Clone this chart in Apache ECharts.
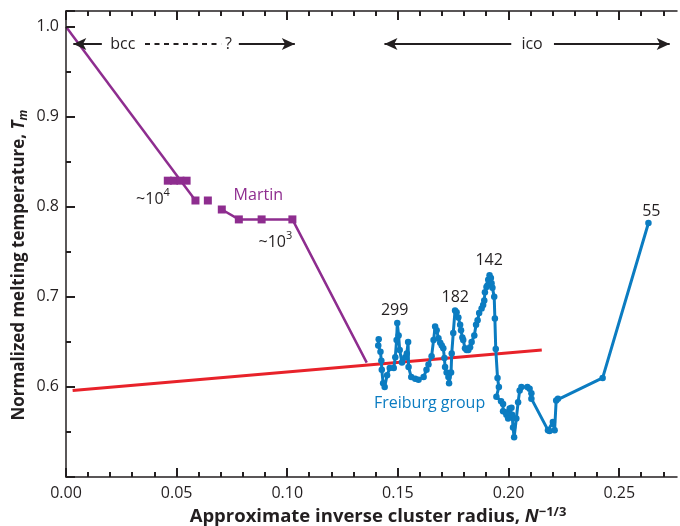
<!DOCTYPE html>
<html><head><meta charset="utf-8">
<script src="https://cdn.jsdelivr.net/npm/echarts@6/dist/echarts.min.js"></script>
<style>html,body{margin:0;padding:0;background:#fff}#c{width:680px;height:526px}</style>
</head><body><div id="c"></div>
<script>
// ---------- data ----------
const xTickLabels = [0, 0.05, 0.10, 0.15, 0.20, 0.25];
const xTickMarks = [0.00,0.01,0.02,0.03,0.04,0.05,0.06,0.07,0.08,0.09,0.10,0.11,0.12,0.13,
  0.14,0.15,0.16,0.17,0.18,0.19,0.20,0.21,0.22,0.23,0.24,0.25,0.26,0.27];
const yTickLabels = [0.6, 0.7, 0.8, 0.9, 1.0];

const martinLineAX = [0.000, 0.0585];
const martinLineAY = [1.000, 0.807];
const martinLineBX = [0.0704, 0.0781, 0.0884, 0.1023, 0.1359];
const martinLineBY = [0.797, 0.786, 0.786, 0.786, 0.627];
const martinSquareX = [0.0460, 0.0488, 0.0517, 0.0545, 0.0585, 0.0641, 0.0704, 0.0781, 0.0884, 0.1023];
const martinSquareY = [0.829, 0.829, 0.829, 0.829, 0.807, 0.807, 0.797, 0.786, 0.786, 0.786];

const freiburgX = [0.1413,0.1411,0.1421,0.1425,0.1427,0.1433,0.1440,0.1451,0.1463,0.1481,
  0.1488,0.1494,0.1497,0.1503,0.1508,0.1518,0.1533,0.1540,0.1546,0.1548,
  0.1560,0.1578,0.1593,0.1616,0.1629,0.1638,0.1652,0.1661,0.1668,0.1675,
  0.1683,0.1691,0.1698,0.1705,0.1710,0.1713,0.1720,0.1728,0.1731,0.1740,
  0.1743,0.1750,0.1758,0.1765,0.1773,0.1781,0.1785,0.1791,0.1795,0.1803,
  0.1810,0.1818,0.1826,0.1833,0.1845,0.1853,0.1860,0.1867,0.1878,0.1885,
  0.1890,0.1893,0.1900,0.1905,0.1908,0.1914,0.1920,0.1923,0.1927,0.1935,
  0.1938,0.1942,0.1950,0.1956,0.1945,0.1966,0.1975,0.1975,0.1986,0.1990,
  0.1998,0.2005,0.2013,0.2016,0.2020,0.2025,0.2035,0.2043,0.2050,0.2058,
  0.2085,0.2095,0.2103,0.2103,0.2178,0.2185,0.2200,0.2208,0.2215,0.2223,
  0.2425,0.2632];
const freiburgY = [0.653,0.646,0.639,0.629,0.619,0.604,0.600,0.613,0.621,0.621,
  0.633,0.652,0.671,0.657,0.641,0.627,0.633,0.637,0.650,0.622,
  0.611,0.609,0.608,0.611,0.619,0.625,0.634,0.652,0.667,0.663,
  0.654,0.649,0.646,0.643,0.632,0.622,0.616,0.611,0.604,0.616,
  0.637,0.660,0.685,0.683,0.677,0.669,0.663,0.655,0.652,0.643,
  0.641,0.641,0.644,0.650,0.657,0.669,0.674,0.682,0.687,0.691,
  0.696,0.705,0.711,0.713,0.719,0.724,0.721,0.715,0.710,0.700,
  0.676,0.642,0.610,0.600,0.589,0.584,0.581,0.573,0.572,0.569,
  0.565,0.576,0.577,0.569,0.555,0.544,0.565,0.583,0.596,0.600,
  0.600,0.598,0.593,0.587,0.552,0.551,0.561,0.552,0.585,0.587,
  0.610,0.782];

const redX = [0.003, 0.215];
const redY = [0.596, 0.641];

// annotations (data coords of text centre)
const noteText = ['~10{sup|4}', 'Martin', '~10{sup|3}', '299', '182', '142', '55', 'Freiburg group', 'bcc', '?', 'ico'];
const noteX = [0.0393, 0.0869, 0.0946, 0.1485, 0.1759, 0.1912, 0.2645, 0.1643, 0.0257, 0.0734, 0.2106];
const noteY = [0.8086, 0.8130, 0.7608, 0.6852, 0.6997, 0.7408, 0.7952, 0.5814, 0.9808, 0.9808, 0.9808];
const noteKind = ['k', 'p', 'k', 'k', 'k', 'k', 'k', 'b', 'k', 'k', 'k'];

// phase arrows (data coords)
const arrowY = 0.9808;
const arrowFrom = [0.0033, 0.0357, 0.0781, 0.1439, 0.2205];
const arrowTo   = [0.0162, 0.0701, 0.1034, 0.2012, 0.2728];
const arrowHead = ['start', 'dash', 'end', 'start', 'end'];

// ---------- chart ----------
const INK = '#231f20', PURPLE = '#8e2d8f', BLUE = '#0b7cc1', RED = '#e8222a';
const FONT = 'Open Sans';
const XMAX = 0.2761, YMIN = 0.5, YMAX = 1.0174;
const TICK_W = 2;
const zip = (a, b) => a.map((v, i) => [v, b[i]]);
const isTick = (v, arr) => arr.some(t => Math.abs(t - v) < 1e-6);

const chart = echarts.init(document.getElementById('c'), null, {renderer: 'canvas'});

function ax(o) {
  const tickLen = o.minor ? 5 : 9;
  return {
    type: 'value', min: o.min, max: o.max, interval: o.interval, position: o.position,
    splitLine: {show: false}, splitArea: {show: false}, z: 20,
    axisLine: {show: !!o.line, onZero: false, lineStyle: {color: INK, width: 1.5}},
    axisTick: {show: !o.noTick, inside: true, length: tickLen, lineStyle: {color: INK, width: TICK_W, opacity: 1}},
    minorTick: {show: false},
    axisLabel: o.label ? o.label : {show: false}
  };
}

const colorOf = {k: INK, p: PURPLE, b: BLUE};
const noteData = noteText.map((t, i) => ({
  value: [noteX[i], noteY[i]],
  label: {formatter: t, color: colorOf[noteKind[i]]}
}));

const markData = arrowFrom.map((f, i) => {
  const h = arrowHead[i];
  return [
    {coord: [f, arrowY], symbol: h === 'start' ? 'arrow' : 'none', symbolSize: [9, 13],
     lineStyle: {type: h === 'dash' ? [5, 4.5] : 'solid', color: INK, width: 2}},
    {coord: [arrowTo[i], arrowY], symbol: h === 'end' ? 'arrow' : 'none', symbolSize: [9, 13]}
  ];
});

const xLabel = {show: true, fontFamily: FONT, fontSize: 16, color: INK, margin: 8,
  formatter: v => isTick(v, xTickLabels) ? v.toFixed(2) : ''};
const yLabel = {show: true, fontFamily: FONT, fontSize: 16, color: INK, margin: 7,
  formatter: v => isTick(v, yTickLabels) ? v.toFixed(1) : ''};

chart.setOption({
  animation: false,
  backgroundColor: '#fff',
  grid: {left: 66, top: 11, right: 0, bottom: 49, containLabel: false},
  xAxis: [
    ax({min: 0, max: XMAX, interval: 0.05, position: 'bottom', line: true, label: xLabel, noTick: true}),
    ax({min: 0, max: XMAX, interval: 0.05, position: 'top', line: true, noTick: true})
  ],
  yAxis: [
    ax({min: YMIN, max: YMAX, interval: 0.1, position: 'left', line: true, label: yLabel}),
    ax({min: YMIN, max: YMAX, interval: 0.05, position: 'left', minor: true})
  ],
  series: [
    {type: 'custom', name: 'xticks', data: xTickMarks.map(v => [v, YMIN]), encode: {x: 0, y: 1},
     silent: true, clip: false, z: 20,
     renderItem: (params, api) => {
       const v = api.value(0);
       const len = isTick(v, xTickLabels) ? 9 : 5;
       const b = api.coord([v, YMIN]);
       const t = api.coord([v, YMAX]);
       const x = Math.round(b[0]);
       const st = {stroke: INK, lineWidth: TICK_W, fill: null};
       return {type: 'group', children: [
         {type: 'line', shape: {x1: x, y1: b[1], x2: x, y2: b[1] - len}, style: st},
         {type: 'line', shape: {x1: x, y1: t[1], x2: x, y2: t[1] + len}, style: st}
       ]};
     }},
    {type: 'line', name: 'red', data: zip(redX, redY), symbol: 'none',
     lineStyle: {color: RED, width: 3}, z: 2},
    {type: 'line', name: 'martinA', data: zip(martinLineAX, martinLineAY), symbol: 'none',
     lineStyle: {color: PURPLE, width: 2.5}, z: 3},
    {type: 'line', name: 'martinB', data: zip(martinLineBX, martinLineBY), symbol: 'none',
     lineStyle: {color: PURPLE, width: 2.5}, z: 3},
    {type: 'scatter', name: 'martinSq', data: zip(martinSquareX, martinSquareY), symbol: 'rect',
     symbolSize: 8, itemStyle: {color: PURPLE, opacity: 1}, z: 4},
    {type: 'line', name: 'freiburg', data: zip(freiburgX, freiburgY), symbol: 'circle',
     symbolSize: 6.5, showAllSymbol: true, itemStyle: {color: BLUE, borderWidth: 0},
     lineStyle: {color: BLUE, width: 3}, z: 5},
    {type: 'scatter', name: 'notes', data: noteData, symbolSize: 1,
     itemStyle: {color: 'rgba(0,0,0,0)', opacity: 1}, z: 6,
     label: {show: true, position: 'inside', fontFamily: FONT, fontSize: 16, lineHeight: 24,
       opacity: 1, textBorderWidth: 0,
       rich: {sup: {fontFamily: FONT, fontSize: 11, lineHeight: 12, verticalAlign: 'top', color: INK}}}},
    {type: 'line', name: 'arrows', data: [], symbol: 'none',
     markLine: {silent: true, animation: false, label: {show: false},
       lineStyle: {color: INK, width: 2}, itemStyle: {color: INK}, data: markData}}
  ],
  graphic: [
    {type: 'text', x: 19, y: 265, rotation: Math.PI / 2, z: 10,
     style: {text: '{a|Normalized melting temperature, }{b|T}{c|m}', align: 'center', verticalAlign: 'middle',
       rich: {
         a: {fill: INK, fontFamily: FONT, fontWeight: 'bold', fontSize: 17, lineHeight: 22},
         b: {fill: INK, fontFamily: FONT, fontWeight: 'bold', fontStyle: 'italic', fontSize: 17, lineHeight: 22},
         c: {fill: INK, fontFamily: FONT, fontWeight: 'bold', fontStyle: 'italic', fontSize: 12, lineHeight: 14, verticalAlign: 'bottom'}
       }}},
    {type: 'text', x: 378, y: 517, z: 10,
     style: {text: '{a|Approximate inverse cluster radius, }{b|N}{c|−1/3}', align: 'center', verticalAlign: 'middle',
       rich: {
         a: {fill: INK, fontFamily: FONT, fontWeight: 'bold', fontSize: 18.5, lineHeight: 22},
         b: {fill: INK, fontFamily: FONT, fontWeight: 'bold', fontStyle: 'italic', fontSize: 18.5, lineHeight: 22},
         c: {fill: INK, fontFamily: FONT, fontWeight: 'bold', fontSize: 13, lineHeight: 13, verticalAlign: 'top'}
       }}}
  ]
});
</script></body></html>
